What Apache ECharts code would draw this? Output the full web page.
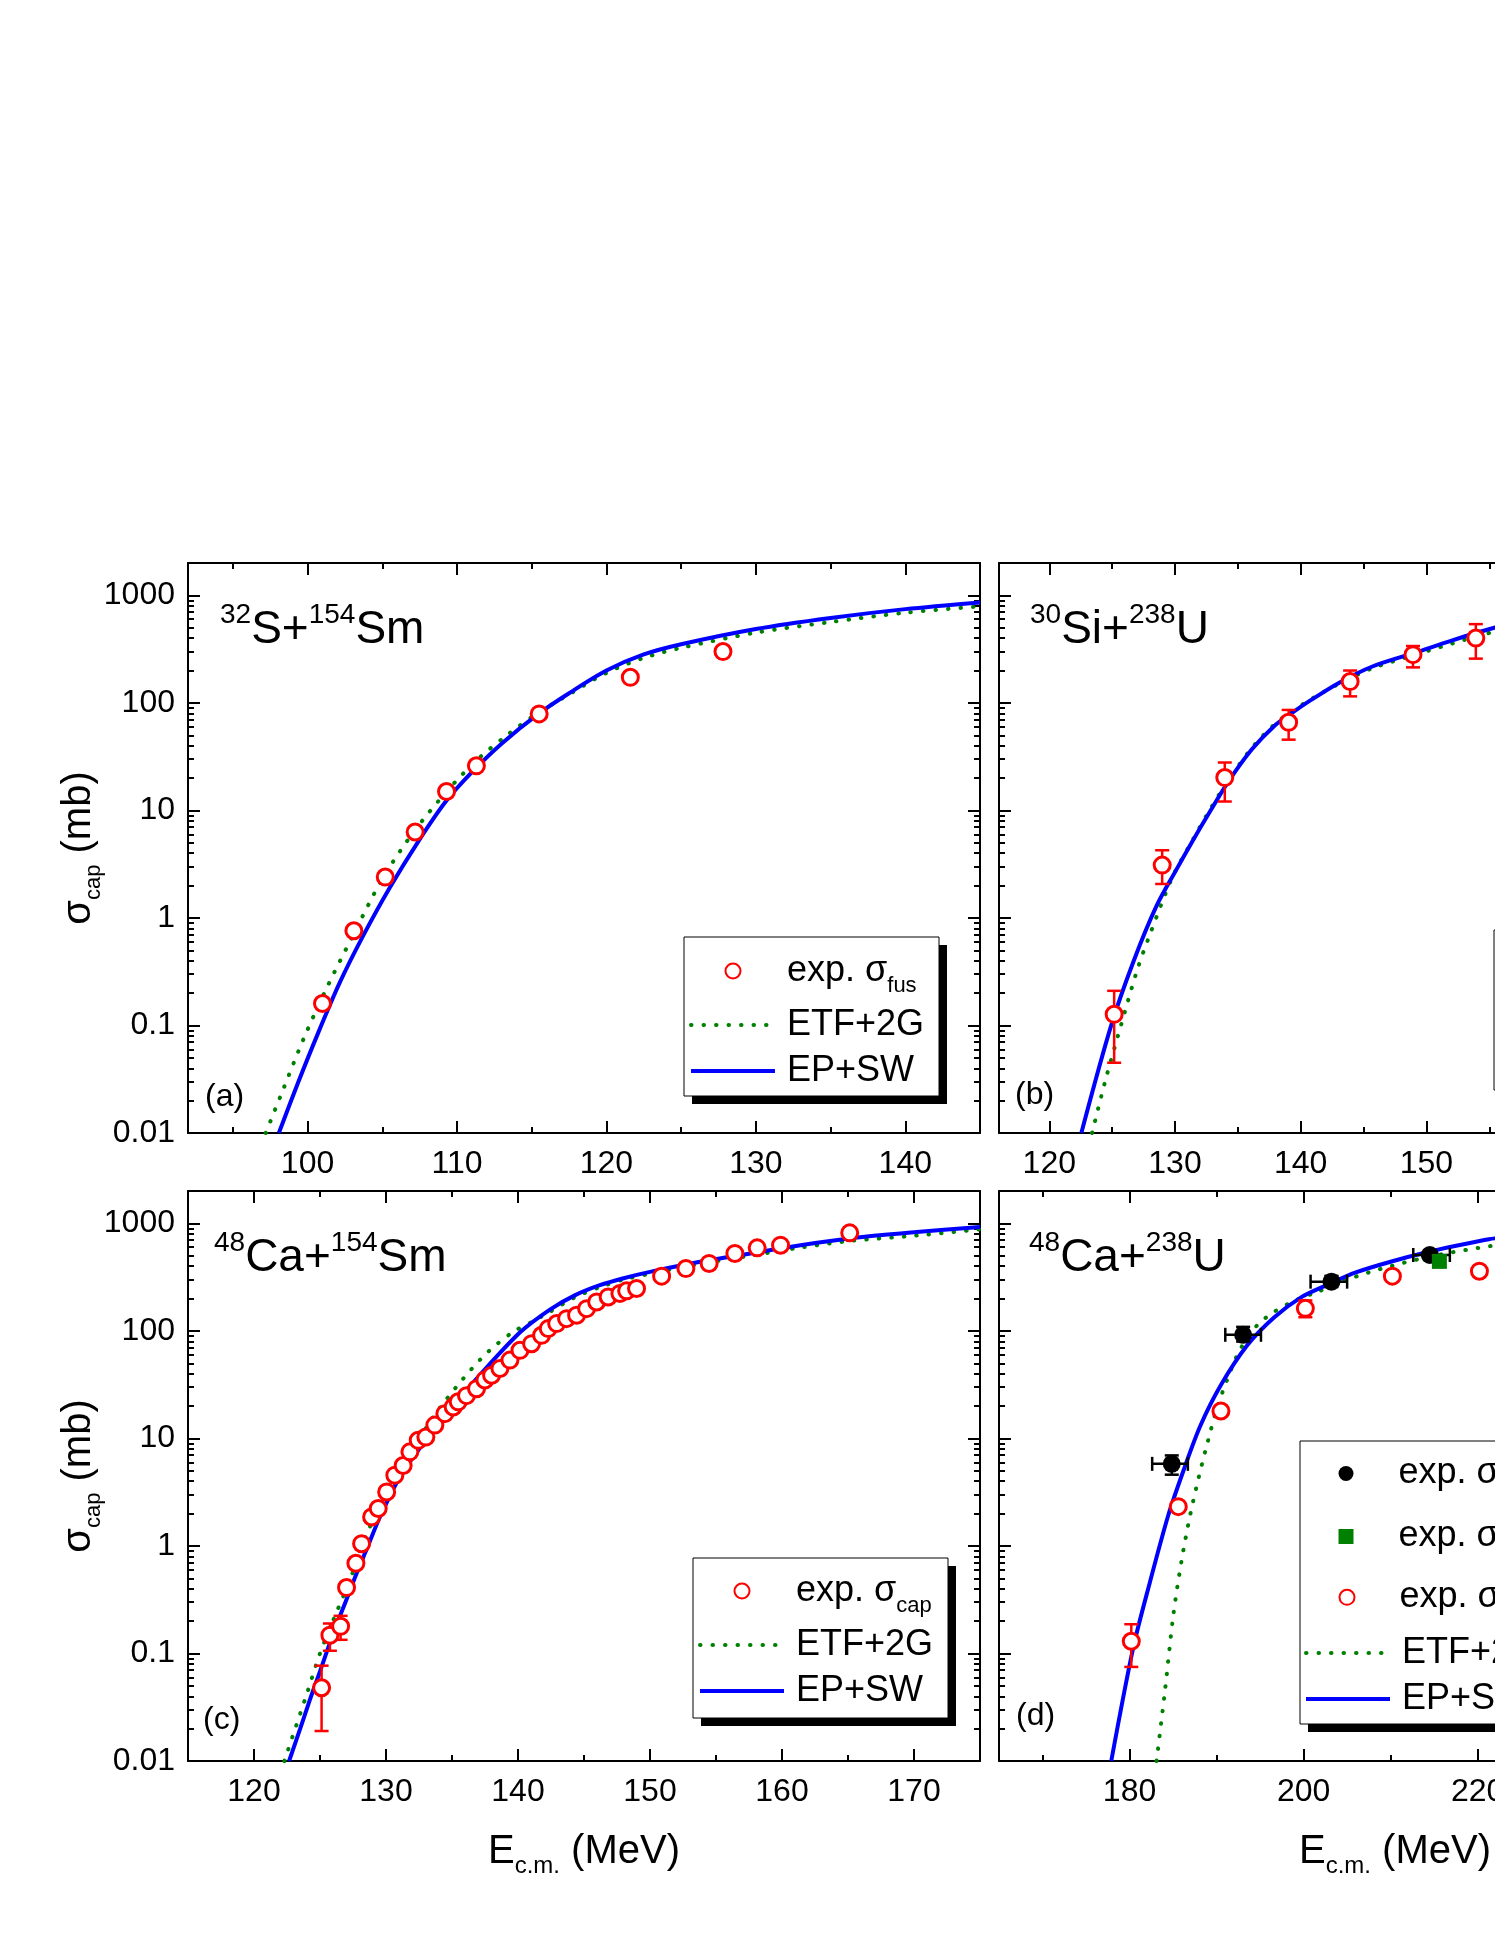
<!DOCTYPE html>
<html>
<head>
<meta charset="utf-8">
<title>capture cross sections</title>
<script src="https://cdn.jsdelivr.net/npm/echarts@6/dist/echarts.min.js"></script>
<style>
  html, body { margin: 0; padding: 0; background: #fff; overflow: hidden; }
  #chart { width: 1830px; height: 1934px; }
</style>
</head>
<body>
<div id="chart"></div>
<script>
// (a) 32S+154Sm
const aExpE = [101.0, 103.1, 105.2, 107.2, 109.3, 111.3, 115.5, 121.6, 127.8];
const aExpSig = [0.16, 0.76, 2.4, 6.3, 15, 26, 79, 173, 300];
const aEtfE = [97.2, 98.35, 99.75, 101.3, 103.0, 105.0, 107.1, 109.4, 111.4, 113.5, 115.5, 117.5, 120, 122.5, 125, 130, 135, 140, 145];
const aEtfSig = [0.01, 0.025, 0.076, 0.226, 0.67, 2.3, 6.3, 15.5, 30, 52, 82, 120, 190, 262, 325, 450, 565, 690, 790];
const aEpE = [98.08, 99.35, 100.69, 102.13, 103.69, 105.47, 107.47, 109.25, 111.03, 113.0, 115.45, 117.5, 120, 122.5, 125, 130, 135, 140, 145];
const aEpSig = [0.01, 0.029, 0.084, 0.246, 0.67, 1.88, 5.3, 12.1, 22.9, 42, 79, 123, 200, 282, 351, 487, 617, 745, 860];

// (b) 30Si+238U
const bExpE = [125.16, 128.98, 133.96, 139.04, 143.93, 148.93, 153.93];
const bExpSig = [0.127, 3.1, 20.2, 66, 158, 281, 401];
const bErrLo = [0.045, 2.07, 12.1, 45.5, 115, 214, 258];
const bErrHi = [0.21, 4.26, 27.9, 86, 200, 338, 540];
const bEtfE = [123.4, 124.5, 125.7, 127, 128, 129.8, 131.4, 132.7, 134.3, 136.1, 137.9, 139.2, 140.8, 143.1, 145.7, 149.1, 152, 155.4, 157];
const bEtfSig = [0.01, 0.032, 0.1, 0.33, 0.7, 2.4, 5.3, 9.8, 19.5, 38, 63, 82, 108, 152, 210, 280, 355, 460, 500];
const bEpE = [122.55, 124.9, 126.72, 128.54, 130.1, 131.4, 132.7, 134.27, 136.1, 137.9, 139.2, 140.8, 143.1, 145.7, 149.1, 152, 155.4, 157];
const bEpSig = [0.01, 0.098, 0.4, 1.3, 2.8, 5.2, 9.4, 18.7, 36.8, 61, 79, 106, 155, 218, 293, 380, 500, 545];

// (c) 48Ca+154Sm
const cExpE = [125.12, 125.75, 126.56, 127.01, 127.72, 128.15, 128.91, 129.41, 130.05, 130.67, 131.3, 131.81,
  132.44, 133.02, 133.7, 134.46, 135.09, 135.47, 136.1, 136.86, 137.49, 138.0, 138.63, 139.39, 140.15,
  141.03, 141.79, 142.29, 142.93, 143.68, 144.44, 145.2, 145.96, 146.83, 147.72, 148.23, 148.98,
  150.88, 152.72, 154.48, 156.43, 158.12, 159.89, 165.13];
const cExpSig = [0.048, 0.148, 0.179, 0.41, 0.69, 1.05, 1.86, 2.23, 3.18, 4.55, 5.6, 7.5,
  9.6, 10.3, 13.3, 17, 19.6, 21.9, 25, 29, 35, 38.7, 44.7, 53.5, 66,
  76, 91, 105, 117, 130, 140, 161, 186, 207, 223, 236, 248,
  323, 380, 424, 525, 592, 627, 816];
const cErrE = [125.12, 125.75, 126.56];
const cErrLo = [0.019, 0.106, 0.134];
const cErrHi = [0.077, 0.19, 0.224];
const cEtfE = [122.3, 124.0, 125.0, 126.26, 127.27, 128.53, 130.05, 131.56, 133.58, 135.85, 137.74, 139.64, 141.03, 142.4, 144.3, 146.2, 148, 150, 153.8, 157.6, 161.4, 165.1, 170.2, 175];
const cEtfSig = [0.01, 0.042, 0.1, 0.243, 0.48, 1.3, 2.86, 6.3, 15.8, 36, 64, 98, 121, 150, 205, 255, 300, 340, 420, 500, 595, 685, 770, 880];
const cEpE = [122.66, 123.5, 124.23, 125, 126.0, 127.0, 127.77, 128.5, 129.54, 131.05, 132.82, 134.84, 137.36, 140.2, 142.42, 144.3, 146.2, 148, 150, 153.8, 157.6, 161.4, 165.1, 170.2, 175];
const cEpSig = [0.01, 0.02, 0.037, 0.068, 0.153, 0.316, 0.553, 0.91, 1.86, 4.39, 8.98, 18.3, 42, 98, 158, 214, 266, 309, 354, 439, 525, 627, 724, 830, 927];

// (d) 48Ca+238U
const dCapE = [184.85, 193.05, 203.2, 214.5];
const dCapSig = [5.8, 92, 287, 508];
const dCapSigLo = [4.6, 79.5, 256, 460];
const dCapSigHi = [6.95, 109, 325, 560];
const dCapELo = [182.6, 191.0, 200.8, 212.6];
const dCapEHi = [186.7, 195.1, 205.0, 216.8];
const dFisE = [215.6];
const dFisSig = [443];
const dQfE = [180.2, 185.6, 190.5, 200.2, 210.2, 220.2];
const dQfSig = [0.13, 2.32, 18, 162, 323, 359];
const dQfErrE = [180.2, 200.2];
const dQfErrLo = [0.075, 134];
const dQfErrHi = [0.187, 192];
const dEtfE = [183.1, 184.07, 185.03, 186.0, 186.96, 187.92, 188.89, 190.05, 191.58, 192.74, 194.67, 196.6, 198.9, 201.6, 205, 210, 215, 220, 223];
const dEtfSig = [0.01, 0.045, 0.228, 0.75, 1.93, 4.26, 8.7, 19.1, 42, 68, 113, 150, 190, 231, 300, 400, 500, 590, 640];
const dEpE = [177.9, 180.4, 182.34, 184.45, 186.18, 188.1, 190.43, 193.5, 196.6, 199.7, 202.8, 206, 210, 214.5, 218, 221.3, 223];
const dEpSig = [0.01, 0.111, 0.46, 1.93, 4.98, 12.9, 30.7, 73, 133, 205, 270, 350, 440, 547, 630, 713, 745];

const FONT = '"Liberation Sans", Arial, sans-serif';
const RED = '#ff0000', BLUE = '#0000ff', GREEN = '#008000';

// panel boxes: [left, top], all 792 x 570
const panels = [[188, 563], [999, 563], [188, 1191], [999, 1191]];
const xRanges = [[92, 145], [116, 179], [115, 175], [165, 256]];

const zip = (a, b) => a.map((v, i) => [v, b[i]]);
const zip3 = (a, b, c) => a.map((v, i) => [v, b[i], c[i]]);

const tickLine = {color: '#000', width: 2};

function xAxesFor(g, withName) {
  const base = {
    gridIndex: g, type: 'value', min: xRanges[g][0], max: xRanges[g][1],
    splitLine: {show: false},
    axisLine: {onZero: false, lineStyle: tickLine},
    axisTick: {inside: true, length: 12, lineStyle: tickLine},
    minorTick: {show: true, splitNumber: 2, length: 6, lineStyle: tickLine}
  };
  const bottom = Object.assign({}, base, {
    position: 'bottom',
    axisLabel: {
      color: '#000', fontSize: 32, fontFamily: FONT, margin: 15,
      formatter: v => (Math.abs(v % 10) < 1e-9 ? String(v) : '')
    }
  });
  if (withName) {
    Object.assign(bottom, {
      name: '{m|E}{s|c.m.}{m| (MeV)}', nameLocation: 'middle', nameGap: 65, nameMoveOverlap: false,
      nameTextStyle: {
        color: '#000', fontFamily: FONT, fontSize: 40,
        rich: {
          m: {fontSize: 40, lineHeight: 52, fontFamily: FONT, color: '#000'},
          s: {fontSize: 24, lineHeight: 16, verticalAlign: 'bottom', fontFamily: FONT, color: '#000'}
        }
      }
    });
  }
  const top = Object.assign({}, base, {position: 'top', axisLabel: {show: false}});
  return [bottom, top];
}

function yAxesFor(g, withLabels) {
  const base = {
    gridIndex: g, type: 'log', logBase: 10, min: 0.01, max: 2000,
    splitLine: {show: false},
    axisLine: {onZero: false, lineStyle: tickLine},
    axisTick: {inside: true, length: 12, lineStyle: tickLine},
    minorTick: {show: true, splitNumber: 9, length: 6, lineStyle: tickLine}
  };
  const left = Object.assign({}, base, {
    position: 'left',
    axisLabel: {
      show: withLabels, color: '#000', fontSize: 32, fontFamily: FONT, margin: 13,
      formatter: v => {
        const l = Math.log10(v);
        return Math.abs(l - Math.round(l)) < 1e-6 ? String(+v.toPrecision(3)) : '';
      }
    }
  });
  if (withLabels) {
    Object.assign(left, {
      name: '{m|σ}{s|cap}{m| (mb)}', nameLocation: 'middle', nameRotate: 90, nameGap: 83, nameMoveOverlap: false,
      nameTextStyle: {
        color: '#000', fontFamily: FONT, fontSize: 40,
        rich: {
          m: {fontSize: 40, lineHeight: 52, fontFamily: FONT, color: '#000'},
          s: {fontSize: 22, lineHeight: 22, verticalAlign: 'bottom', fontFamily: FONT, color: '#000'}
        }
      }
    });
  }
  const right = Object.assign({}, base, {position: 'right', axisLabel: {show: false}});
  return [left, right];
}

// series helpers
function etfLine(g, e, s) {
  return {
    name: 'ETF+2G', type: 'line', xAxisIndex: 2 * g, yAxisIndex: 2 * g, data: zip(e, s),
    smooth: 0.3, symbol: 'none', showSymbol: false, clip: true, z: 2,
    lineStyle: {color: GREEN, width: 4, type: [0.5, 12], cap: 'round'},
    itemStyle: {color: GREEN}
  };
}
function epLine(g, e, s) {
  return {
    name: 'EP+SW', type: 'line', xAxisIndex: 2 * g, yAxisIndex: 2 * g, data: zip(e, s),
    smooth: 0.3, symbol: 'none', showSymbol: false, clip: true, z: 3,
    lineStyle: {color: BLUE, width: 4},
    itemStyle: {color: BLUE}
  };
}
function dots(name, g, e, s, opt) {
  return Object.assign({
    name, type: 'scatter', xAxisIndex: 2 * g, yAxisIndex: 2 * g, data: zip(e, s),
    symbol: 'circle', symbolSize: 16, z: 5,
    itemStyle: {color: '#fff', borderColor: RED, borderWidth: 3, opacity: 1}
  }, opt || {});
}
function yErr(g, rows, color) {
  return {
    type: 'custom', xAxisIndex: 2 * g, yAxisIndex: 2 * g, data: rows, z: 4, clip: true,
    encode: {x: 0, y: [1, 2]}, silent: true,
    renderItem: (params, api) => {
      const x = api.value(0);
      const p1 = api.coord([x, api.value(1)]);
      const p2 = api.coord([x, api.value(2)]);
      const st = {stroke: color, lineWidth: 2.5};
      return {type: 'group', children: [
        {type: 'line', shape: {x1: p1[0], y1: p1[1], x2: p2[0], y2: p2[1]}, style: st},
        {type: 'line', shape: {x1: p1[0] - 7, y1: p1[1], x2: p1[0] + 7, y2: p1[1]}, style: st},
        {type: 'line', shape: {x1: p2[0] - 7, y1: p2[1], x2: p2[0] + 7, y2: p2[1]}, style: st}
      ]};
    }
  };
}
function xErr(g, rows, color) {
  // rows: [sigma, Elo, Ehi]
  return {
    type: 'custom', xAxisIndex: 2 * g, yAxisIndex: 2 * g, data: rows, z: 4, clip: true,
    encode: {x: [1, 2], y: 0}, silent: true,
    renderItem: (params, api) => {
      const y = api.value(0);
      const p1 = api.coord([api.value(1), y]);
      const p2 = api.coord([api.value(2), y]);
      const st = {stroke: color, lineWidth: 2.5};
      return {type: 'group', children: [
        {type: 'line', shape: {x1: p1[0], y1: p1[1], x2: p2[0], y2: p2[1]}, style: st},
        {type: 'line', shape: {x1: p1[0], y1: p1[1] - 7, x2: p1[0], y2: p1[1] + 7}, style: st},
        {type: 'line', shape: {x1: p2[0], y1: p2[1] - 7, x2: p2[0], y2: p2[1] + 7}, style: st}
      ]};
    }
  };
}

const legendText = {
  'a-exp': ['exp. σ', 'fus'],
  'b-exp': ['exp. σ', 'cap'],
  'c-exp': ['exp. σ', 'cap'],
  'd-cap': ['exp. σ', 'cap'],
  'd-fis': ['exp. σ', 'cap'],
  'd-qf': ['exp. σ', 'qf']
};
const legendLines = {
  'ETF+2G': {color: GREEN, width: 4, type: [0.5, 12], cap: 'round'},
  'EP+SW': {color: BLUE, width: 4}
};
function legendEntry(n) {
  if (legendText[n]) return {name: n};
  return {name: n, itemStyle: {opacity: 0}, lineStyle: legendLines[n]};
}
function legendItems(left, top, names, opt) {
  opt = opt || {};
  const iw = opt.itemWidth || 84;
  const pad = opt.textPad || 7;
  return {
    orient: 'vertical', left, top, selectedMode: false, z: 20,
    data: names.map(legendEntry),
    itemWidth: iw, itemHeight: 15, itemGap: opt.gap || 10, padding: 0,
    formatter: n => legendText[n] ? `{m|${legendText[n][0]}}{s|${legendText[n][1]}}` : `{p|${n}}`,
    textStyle: {
      color: '#000', fontFamily: FONT, fontSize: 36,
      rich: {
        m: {fontSize: 36, lineHeight: 52, fontFamily: FONT, color: '#000', padding: [0, 0, 0, pad]},
        s: {fontSize: 22, lineHeight: 22, verticalAlign: 'bottom', fontFamily: FONT, color: '#000'},
        p: {fontSize: 36, lineHeight: 40, fontFamily: FONT, color: '#000', padding: [0, 0, 0, pad]}
      }
    }
  };
}
// legend frame with the hard offset shadow
function legendFrame(x, y, w, h) {
  return [
    {type: 'rect', z: 10, silent: true, shape: {x: x + 8, y: y + 8, width: w, height: h}, style: {fill: '#000'}},
    {type: 'rect', z: 11, silent: true, shape: {x, y, width: w, height: h}, style: {fill: '#fff', stroke: '#000', lineWidth: 1}}
  ];
}

function title(x, y, text) {
  return {
    type: 'text', x, y, z: 20, silent: true,
    style: {
      text, fill: '#000', align: 'left', verticalAlign: 'top', fontFamily: FONT,
      rich: {
        m: {fontSize: 46, lineHeight: 58, fontFamily: FONT, fill: '#000'},
        u: {fontSize: 28, lineHeight: 28, verticalAlign: 'top', fontFamily: FONT, fill: '#000'}
      }
    }
  };
}
function letter(x, y, text) {
  return {
    type: 'text', x, y, z: 20, silent: true,
    style: {text, fill: '#000', align: 'left', verticalAlign: 'middle', fontSize: 32, fontFamily: FONT}
  };
}

const chart = echarts.init(document.getElementById('chart'), null, {renderer: 'canvas'});

// single-symbol rows of panel (d): narrow icon box centred where the wide ones centre
const narrow = {itemWidth: 15, textPad: 40};

const option = {
  animation: false,
  backgroundColor: '#fff',
  textStyle: {fontFamily: FONT},
  grid: panels.map(p => ({left: p[0], top: p[1], width: 792, height: 570, containLabel: false, outerBoundsMode: 'none'})),
  xAxis: [].concat(xAxesFor(0, false), xAxesFor(1, false), xAxesFor(2, true), xAxesFor(3, true)),
  yAxis: [].concat(yAxesFor(0, true), yAxesFor(1, false), yAxesFor(2, true), yAxesFor(3, false)),
  legend: [
    legendItems(689, 953, ['a-exp', 'ETF+2G', 'EP+SW']),
    legendItems(1499, 946, ['b-exp', 'ETF+2G', 'EP+SW']),
    legendItems(698, 1573, ['c-exp', 'ETF+2G', 'EP+SW']),
    legendItems(1338.5, 1455.5, ['d-cap'], narrow),
    legendItems(1338.5, 1518.5, ['d-fis'], narrow),
    legendItems(1338.5, 1579.3, ['d-qf'], narrow),
    legendItems(1304, 1635, ['ETF+2G', 'EP+SW'])
  ],
  graphic: [].concat(
    legendFrame(684, 937, 255, 159),
    legendFrame(1494, 930, 255, 160),
    legendFrame(693, 1558, 255, 160),
    legendFrame(1300, 1441, 300, 283),
    [
      title(220, 601, '{u|32}{m|S+}{u|154}{m|Sm}'),
      title(1030, 601, '{u|30}{m|Si+}{u|238}{m|U}'),
      title(214, 1229, '{u|48}{m|Ca+}{u|154}{m|Sm}'),
      title(1029, 1229, '{u|48}{m|Ca+}{u|238}{m|U}'),
      letter(205, 1097, '(a)'),
      letter(1015, 1095, '(b)'),
      letter(203, 1720, '(c)'),
      letter(1016, 1716, '(d)')
    ]
  ),
  series: [
    // (a)
    etfLine(0, aEtfE, aEtfSig),
    epLine(0, aEpE, aEpSig),
    dots('a-exp', 0, aExpE, aExpSig),
    // (b)
    etfLine(1, bEtfE, bEtfSig),
    epLine(1, bEpE, bEpSig),
    yErr(1, zip3(bExpE, bErrLo, bErrHi), RED),
    dots('b-exp', 1, bExpE, bExpSig),
    // (c)
    etfLine(2, cEtfE, cEtfSig),
    epLine(2, cEpE, cEpSig),
    yErr(2, zip3(cErrE, cErrLo, cErrHi), RED),
    dots('c-exp', 2, cExpE, cExpSig),
    // (d)
    etfLine(3, dEtfE, dEtfSig),
    epLine(3, dEpE, dEpSig),
    yErr(3, zip3(dQfErrE, dQfErrLo, dQfErrHi), RED),
    yErr(3, zip3(dCapE, dCapSigLo, dCapSigHi), '#000'),
    xErr(3, zip3(dCapSig, dCapELo, dCapEHi), '#000'),
    dots('d-cap', 3, dCapE, dCapSig, {symbolSize: 18, itemStyle: {color: '#000', borderWidth: 0, opacity: 1}}),
    dots('d-fis', 3, dFisE, dFisSig, {symbol: 'rect', symbolSize: 15, itemStyle: {color: GREEN, borderWidth: 0, opacity: 1}}),
    dots('d-qf', 3, dQfE, dQfSig)
  ]
};

chart.setOption(option);
</script>
</body>
</html>
